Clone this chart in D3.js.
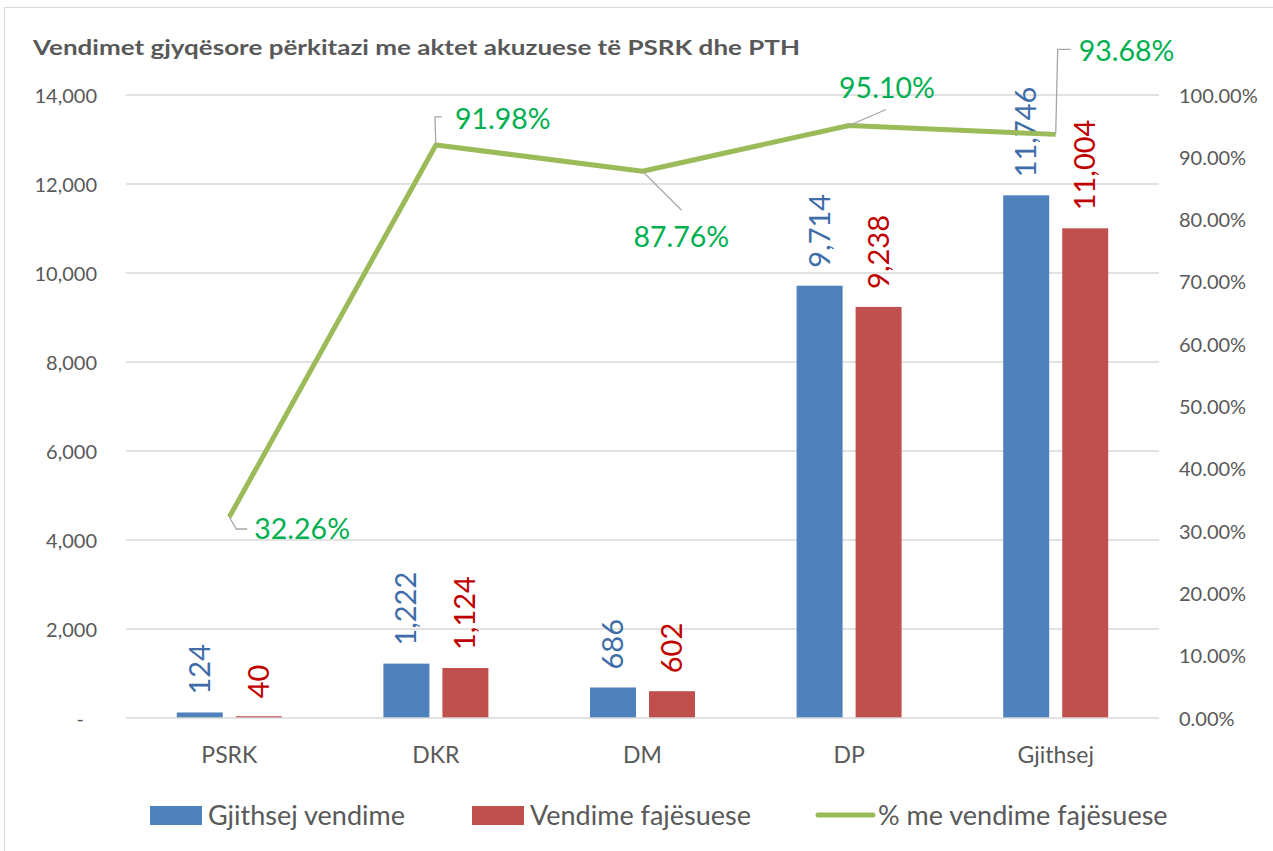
<!DOCTYPE html>
<html><head><meta charset="utf-8">
<script src="https://cdn.jsdelivr.net/npm/d3@7"></script>
<style>body{margin:0;background:#fff}svg{display:block}text{font-family:Lato,"Open Sans",sans-serif}</style>
</head><body>
<svg id="c" width="1273" height="851"></svg>
<script>
const categories = ["PSRK","DKR","DM","DP","Gjithsej"];
const totalDecisions = [124,1222,686,9714,11746];
const convictions = [40,1124,602,9238,11004];
const convictionPct = [0.3226,0.9198,0.8776,0.9510,0.9368];
const leftTicks = [0,2000,4000,6000,8000,10000,12000,14000];
const rightTicks = [0,0.1,0.2,0.3,0.4,0.5,0.6,0.7,0.8,0.9,1.0];
const seriesNames = ["Gjithsej vendime","Vendime fajësuese","% me vendime fajësuese"];

// label leader/offset styling (relative to point)
const pctLabelStyle = [
  {path:[[0,0],[7,12],[18,12]], tx:25, ty:12},
  {path:[[0,0],[-1,-28],[6,-28]], tx:19, ty:-26},
  {path:[[0,0],[39,39]], tx:-9, ty:66},
  {path:[[0,0],[37,-16]], tx:-10, ty:-38},
  {path:[[0,0],[2,-85],[15,-85]], tx:23, ty:-83}
];

const svg = d3.select("#c");
const W=1273,H=851;
svg.append("rect").attr("x",4.5).attr("y",7.5).attr("width",W-4).attr("height",H).attr("fill","#fff").attr("stroke","#d9d9d9");

const L=126,R=1159,T=95,B=718;
const x0 = d3.scaleBand().domain(categories).range([L,R]).padding(0);
const x1 = d3.scaleBand().domain(["t","c"]).range([0,105]).paddingInner(13/59).paddingOuter(0);
const yL = d3.scaleLinear().domain([0,14000]).range([B,T]);
const yR = d3.scaleLinear().domain([0,1]).range([B,T]);
const gray="#595959";

// title
svg.append("text").attr("x",33).attr("y",55).attr("font-size",21).attr("font-weight","bold").attr("fill",gray)
  .text("Vendimet gjyqësore përkitazi me aktet akuzuese të PSRK dhe PTH")
  .attr("textLength",767).attr("lengthAdjust","spacingAndGlyphs");

// gridlines
svg.append("g").selectAll("line").data(leftTicks.slice(1)).join("line")
  .attr("x1",L).attr("x2",R).attr("y1",d=>yL(d)).attr("y2",d=>yL(d)).attr("stroke","#d9d9d9").attr("stroke-width",1.3);

// left axis
const axL = d3.axisLeft(yL).tickValues(leftTicks).tickSize(0).tickPadding(0)
  .tickFormat(d=>d===0?"-":d3.format(",")(d));
const gL = svg.append("g").attr("transform",`translate(97,0)`).call(axL);
gL.select(".domain").remove();
gL.selectAll("text").attr("font-size",20).attr("fill",gray).attr("font-family","Lato,sans-serif").attr("dy","0.35em")
  .attr("dx",d=>d===0?-13:0);

// right axis
const axR = d3.axisRight(yR).tickValues(rightTicks).tickSize(0).tickPadding(0).tickFormat(d3.format(".2%"));
const gR = svg.append("g").attr("transform",`translate(1179,0)`).call(axR);
gR.select(".domain").remove();
gR.selectAll("text").attr("font-size",20).attr("fill",gray).attr("font-family","Lato,sans-serif").attr("dy","0.35em");

// bars
const off = x0.bandwidth()/2 - 52.5;
const grp = svg.append("g");
const rows = categories.map((c,i)=>({c, t:totalDecisions[i], v:convictions[i]}));
grp.selectAll(".bt").data(rows).join("rect")
  .attr("x",d=>x0(d.c)+off+x1("t")).attr("width",x1.bandwidth())
  .attr("y",d=>yL(d.t)).attr("height",d=>B-yL(d.t)).attr("fill","#4F81BD");
grp.selectAll(".bc").data(rows).join("rect")
  .attr("x",d=>x0(d.c)+off+x1("c")).attr("width",x1.bandwidth())
  .attr("y",d=>yL(d.v)).attr("height",d=>B-yL(d.v)).attr("fill","#C0504D");

// x axis line
svg.append("line").attr("x1",L).attr("x2",R).attr("y1",B).attr("y2",B).attr("stroke","#d9d9d9").attr("stroke-width",1.5);

// bar labels
function barLabel(val, key, color){
  grp.selectAll(null).data(rows).join("text")
    .attr("transform",d=>`translate(${x0(d.c)+off+x1(key)+x1.bandwidth()/2+10},${yL(d[val])-18}) rotate(-90)`)
    .attr("font-size",29).attr("fill",color).attr("text-anchor","start")
    .text(d=>d3.format(",")(d[val]));
}
barLabel("t","t","#3E6DA8");
barLabel("v","c","#C00000");

// category labels
svg.append("g").selectAll("text").data(categories).join("text")
  .attr("x",d=>x0(d)+x0.bandwidth()/2).attr("y",763).attr("text-anchor","middle")
  .attr("font-size",23).attr("fill",gray).text(d=>d);

// line
const pts = categories.map((c,i)=>[x0(c)+x0.bandwidth()/2, yR(convictionPct[i])]);
svg.append("path").attr("d",d3.line()(pts)).attr("fill","none").attr("stroke","#9BBB59").attr("stroke-width",5).attr("stroke-linejoin","round");

// line labels
pts.forEach((p,i)=>{
  const s=pctLabelStyle[i];
  svg.append("path").attr("d",d3.line()(s.path.map(q=>[p[0]+q[0],p[1]+q[1]]))).attr("fill","none").attr("stroke","#a6a6a6").attr("stroke-width",1.3);
  svg.append("text").attr("x",p[0]+s.tx).attr("y",p[1]+s.ty).attr("dy","0.35em")
    .attr("font-size",28.5).attr("fill","#00B050").text(d3.format(".2%")(convictionPct[i]));
});

// legend
const lg = svg.append("g");
const legX=[150,472,818];
[0,1].forEach(i=>{
  lg.append("rect").attr("x",legX[i]).attr("y",806).attr("width",52).attr("height",19).attr("fill",i?"#C0504D":"#4F81BD");
  lg.append("text").attr("x",legX[i]+58).attr("y",816).attr("dy","0.35em").attr("font-size",27).attr("fill",gray).text(seriesNames[i]);
});
lg.append("line").attr("x1",legX[2]).attr("x2",legX[2]+55).attr("y1",815).attr("y2",815).attr("stroke","#9BBB59").attr("stroke-width",5).attr("stroke-linecap","round");
lg.append("text").attr("x",legX[2]+60).attr("y",816).attr("dy","0.35em").attr("font-size",27).attr("fill",gray).text(seriesNames[2]);
</script>
</body></html>
